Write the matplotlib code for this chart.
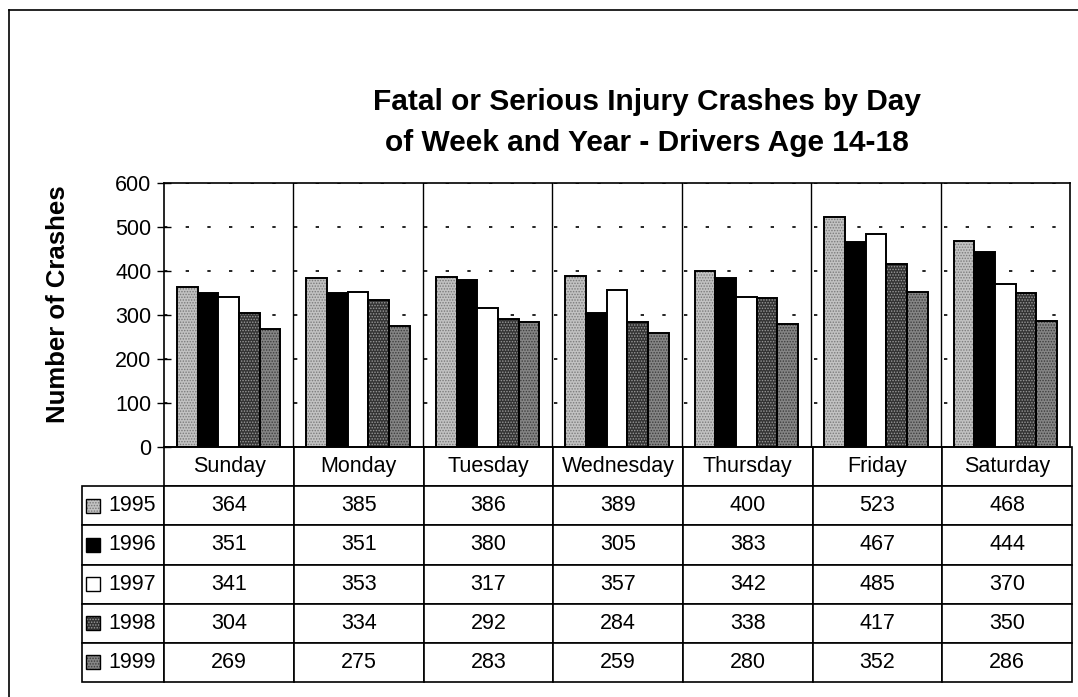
import matplotlib.pyplot as plt
import numpy as np
from matplotlib.patches import Rectangle
from matplotlib.lines import Line2D

days = ["Sunday", "Monday", "Tuesday", "Wednesday", "Thursday", "Friday", "Saturday"]
years = ["1995", "1996", "1997", "1998", "1999"]
c1995 = [364, 385, 386, 389, 400, 523, 468]
c1996 = [351, 351, 380, 305, 383, 467, 444]
c1997 = [341, 353, 317, 357, 342, 485, 370]
c1998 = [304, 334, 292, 284, 338, 417, 350]
c1999 = [269, 275, 283, 259, 280, 352, 286]
series = [c1995, c1996, c1997, c1998, c1999]

# fill / stipple colour per year
fills = ["#c2c2c2", "#000000", "#ffffff", "#333333", "#858585"]
dots = ["#7a7a7a", "#000000", "#ffffff", "#9a9a9a", "#3c3c3c"]
hatches = ["......", None, None, "......", "......"]

plt.rcParams["font.family"] = ["Liberation Sans", "DejaVu Sans"]
plt.rcParams["hatch.linewidth"] = 0.7

fig = plt.figure(figsize=(10.78, 6.97), dpi=100)
ax = fig.add_axes([164 / 1078, 1 - 447 / 697, 906 / 1078, 264 / 697])

x = np.arange(len(days))
w = 0.16
for i, vals in enumerate(series):
    pos = x + (i - 2) * w
    if hatches[i]:
        ax.bar(pos, vals, w, color=fills[i], edgecolor=dots[i], hatch=hatches[i],
               linewidth=0, zorder=2)
        ax.bar(pos, vals, w, facecolor="none", edgecolor="black", linewidth=1.4, zorder=3)
    else:
        ax.bar(pos, vals, w, color=fills[i], edgecolor="black", linewidth=1.4, zorder=3)

ax.set_xlim(-0.5, len(days) - 0.5)
ax.set_ylim(0, 600)
ax.set_yticks(range(0, 601, 100))
ax.tick_params(axis="y", direction="inout", length=10, width=1, labelsize=15.5, pad=4)
ax.set_xticks([])
ax.set_xticks(np.arange(0.5, len(days) - 0.5, 1), minor=True)
ax.tick_params(axis="x", which="minor", length=0)
ax.grid(True, which="minor", axis="x", color="black", linewidth=1)
ax.grid(True, which="major", axis="y", color="black", linewidth=1.2,
        linestyle=(0, (2, 11)))
ax.set_axisbelow(True)
for s in ax.spines.values():
    s.set_linewidth(1.2)

ax.set_ylabel("Number of Crashes", fontsize=18.5, fontweight="bold")
ax.yaxis.set_label_coords(-0.104, 0.54)

fig.text(0.60, 0.8245, "Fatal or Serious Injury Crashes by Day\nof Week and Year - Drivers Age 14-18",
         ha="center", va="center", fontsize=21.5, fontweight="bold",
         linespacing=1.58)

# data table under the axes
cell_text = [[y] + [str(v) for v in vals] for y, vals in zip(years, series)]
col_w = [82] + [906 / 7] * 7
tbl = ax.table(cellText=cell_text, colLabels=[""] + days, cellLoc="center",
               colWidths=col_w, bbox=[-82 / 906, -235 / 264, 990 / 906, 235 / 264])
tbl.auto_set_font_size(False)
tbl.set_fontsize(15.5)
for (r, c), cell in tbl.get_celld().items():
    cell.set_linewidth(1.2)
    if r == 0 and c == 0:
        cell.visible_edges = "open"
    if c == 0 and r > 0:
        cell._loc = "right"
        cell.get_text().set_ha("right")

# legend swatches in the row label cells
rh = (235 / 264) / 6
for i in range(len(years)):
    yc = -rh * (i + 1.5)
    sw = 14 / 906
    sh = 14 / 264
    ax.add_patch(Rectangle((-78 / 906, yc - sh / 2), sw, sh, transform=ax.transAxes,
                           facecolor=fills[i], edgecolor=dots[i] if hatches[i] else "black",
                           hatch=hatches[i], linewidth=0, clip_on=False, zorder=5))
    ax.add_patch(Rectangle((-78 / 906, yc - sh / 2), sw, sh, transform=ax.transAxes,
                           facecolor="none", edgecolor="black", linewidth=1,
                           clip_on=False, zorder=6))

# outer frame (cropped on right and bottom)
fig.add_artist(Line2D([9 / 1078, 9 / 1078], [0, 1 - 10 / 697], color="black", linewidth=1.2))
fig.add_artist(Line2D([9 / 1078, 1], [1 - 10 / 697, 1 - 10 / 697], color="black", linewidth=1.2))

fig.savefig("out.png", dpi=100)
